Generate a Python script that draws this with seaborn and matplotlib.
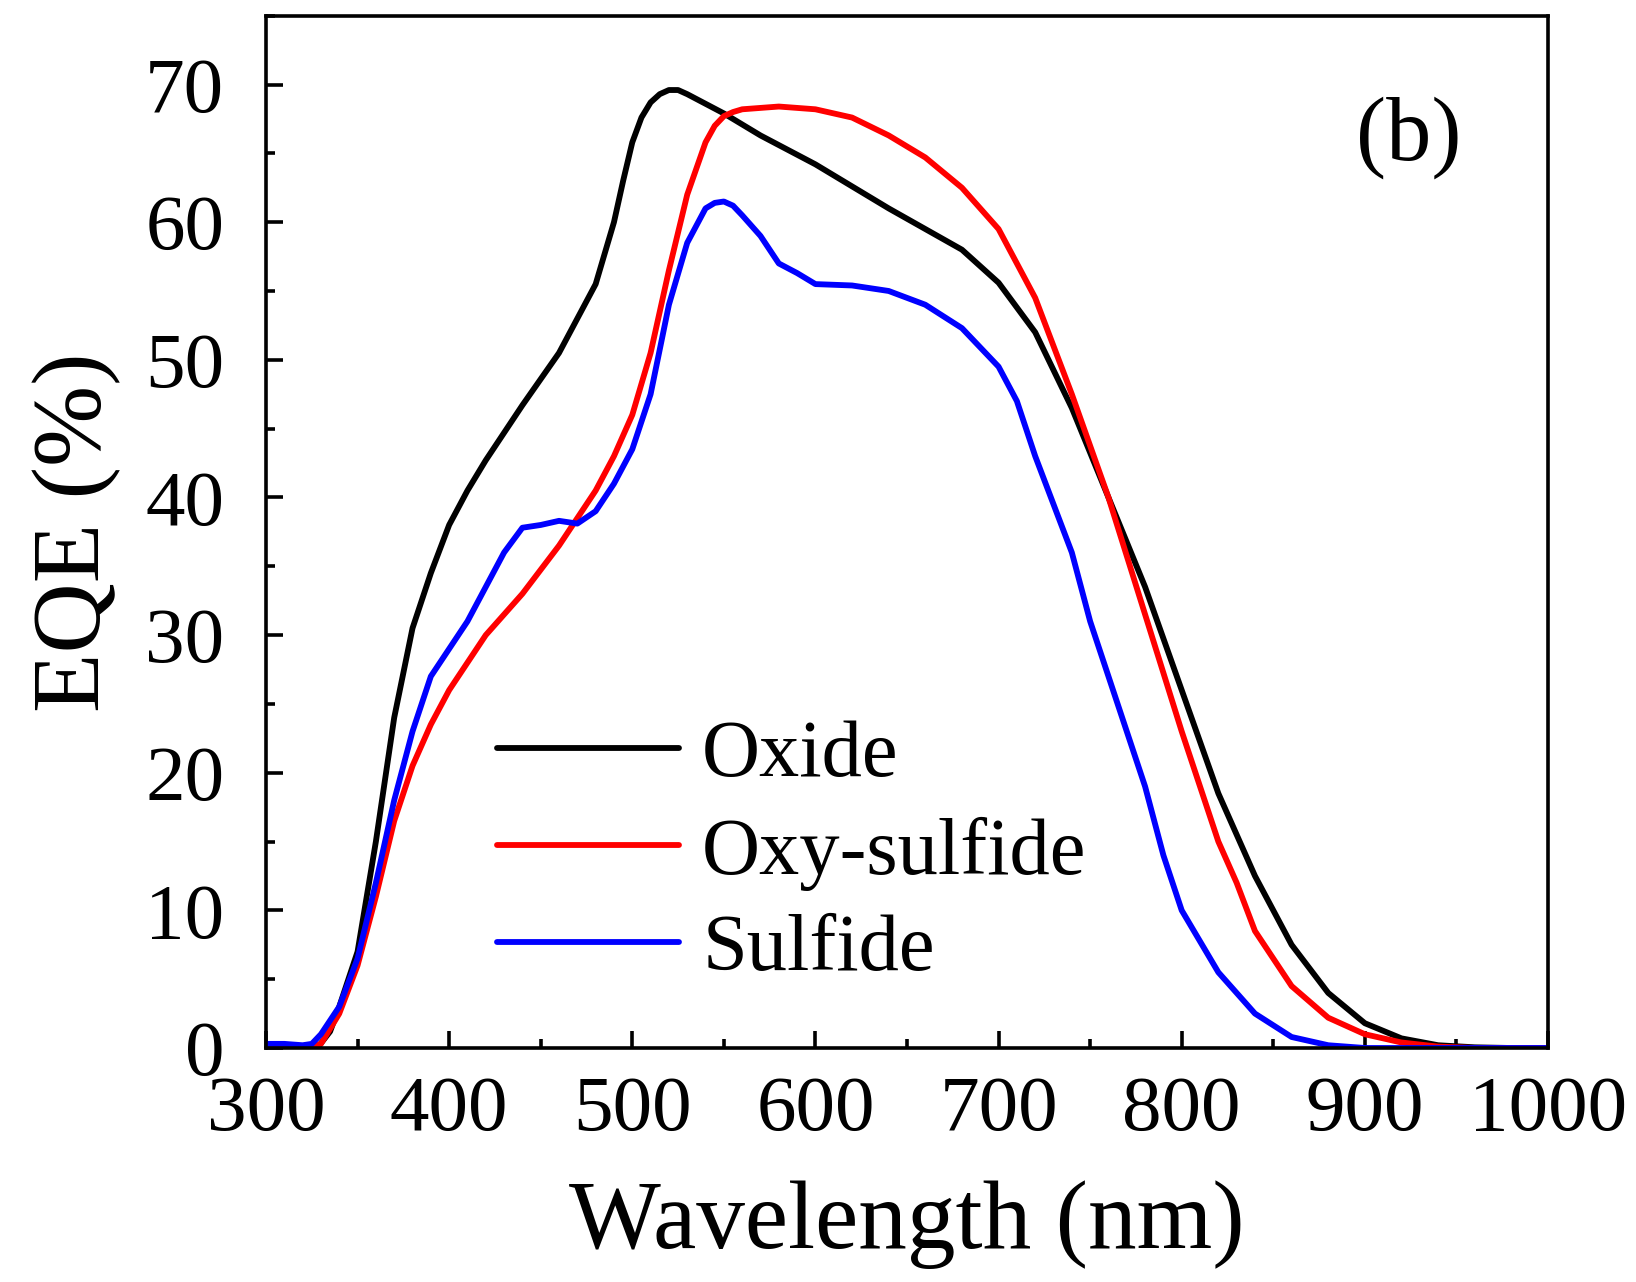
import numpy as np
import pandas as pd
import seaborn as sns
import matplotlib
matplotlib.use("Agg")
import matplotlib.pyplot as plt
from matplotlib.ticker import MultipleLocator

# ---- data ----
oxide_wl = [300, 310, 320, 328, 335, 340, 350, 360, 370, 380, 390, 400, 410, 420, 440, 460,
            480, 490, 495, 500, 505, 510, 515, 520, 525, 530, 540, 550, 560, 570, 580, 600,
            620, 640, 660, 680, 700, 720, 740, 760, 780, 800, 820, 840, 860, 880, 900, 920,
            940, 960, 980, 1000]
oxide_eqe = [0.0, 0.0, 0.0, 0.0, 1.2, 3.0, 7.0, 15.0, 24.0, 30.5, 34.5, 38.0, 40.5, 42.7, 46.7, 50.5,
             55.5, 60.0, 63.0, 65.8, 67.6, 68.7, 69.3, 69.6, 69.6, 69.3, 68.6, 67.9, 67.1, 66.3, 65.6, 64.2,
             62.6, 61.0, 59.5, 58.0, 55.6, 52.0, 46.5, 40.0, 33.5, 26.0, 18.5, 12.5, 7.5, 4.0, 1.8, 0.7,
             0.2, 0.05, 0.0, 0.0]

oxys_wl = [300, 310, 320, 330, 340, 350, 360, 370, 380, 390, 400, 420, 440, 460, 480, 490,
           500, 510, 520, 530, 540, 545, 550, 555, 560, 580, 600, 620, 640, 660, 680, 700,
           720, 740, 760, 780, 800, 820, 830, 840, 860, 880, 900, 920, 940, 960, 980, 1000]
oxys_eqe = [0.0, 0.0, 0.0, 0.3, 2.5, 6.0, 11.0, 16.5, 20.5, 23.5, 26.0, 30.0, 33.0, 36.5, 40.5, 43.0,
            46.0, 50.5, 56.5, 62.0, 65.8, 67.0, 67.7, 68.0, 68.2, 68.4, 68.2, 67.6, 66.3, 64.7, 62.5, 59.5,
            54.5, 47.5, 40.0, 31.5, 23.0, 15.0, 12.0, 8.5, 4.5, 2.2, 1.0, 0.4, 0.1, 0.0, 0.0, 0.0]

sulf_wl = [300, 310, 320, 325, 330, 340, 350, 360, 370, 380, 390, 400, 410, 420, 430, 440,
           450, 460, 470, 480, 490, 500, 510, 520, 530, 540, 545, 550, 555, 560, 570, 580,
           590, 600, 620, 640, 660, 680, 700, 710, 720, 740, 750, 760, 770, 780, 790, 800,
           820, 840, 860, 880, 900, 950, 1000]
sulf_eqe = [0.3, 0.3, 0.2, 0.3, 1.0, 3.0, 6.5, 12.0, 18.0, 23.0, 27.0, 29.0, 31.0, 33.5, 36.0, 37.8,
            38.0, 38.3, 38.1, 39.0, 41.0, 43.5, 47.5, 54.0, 58.5, 61.0, 61.4, 61.5, 61.2, 60.5, 59.0, 57.0,
            56.3, 55.5, 55.4, 55.0, 54.0, 52.3, 49.5, 47.0, 43.0, 36.0, 31.0, 27.0, 23.0, 19.0, 14.0, 10.0,
            5.5, 2.5, 0.8, 0.2, 0.0, 0.0, 0.0]

series_names = ["Oxide", "Oxy-sulfide", "Sulfide"]
series_colors = ["#000000", "#ff0000", "#0000ff"]

df = pd.concat([
    pd.DataFrame({"wl": oxide_wl, "eqe": oxide_eqe, "sample": "Oxide"}),
    pd.DataFrame({"wl": oxys_wl, "eqe": oxys_eqe, "sample": "Oxy-sulfide"}),
    pd.DataFrame({"wl": sulf_wl, "eqe": sulf_eqe, "sample": "Sulfide"}),
], ignore_index=True)

sns.set_style("ticks")
plt.rcParams["font.family"] = ["Liberation Serif", "DejaVu Serif"]
plt.rcParams["text.color"] = "black"
plt.rcParams["axes.labelcolor"] = "black"
plt.rcParams["xtick.color"] = "black"
plt.rcParams["ytick.color"] = "black"

fig = plt.figure(figsize=(16.36, 12.82), dpi=100)
ax = fig.add_axes([266 / 1636, 1 - 1048 / 1282, (1548 - 266) / 1636, (1048 - 15.7) / 1282])

sns.lineplot(data=df, x="wl", y="eqe", hue="sample", hue_order=series_names,
             palette=dict(zip(series_names, series_colors)), estimator=None,
             linewidth=4.2, ax=ax)

ax.set_xlim(300, 1000)
ax.set_ylim(0, 75)
ax.xaxis.set_major_locator(MultipleLocator(100))
ax.xaxis.set_minor_locator(MultipleLocator(50))
ax.set_yticks([0, 10, 20, 30, 40, 50, 60, 70])
ax.yaxis.set_minor_locator(MultipleLocator(5))

for s in ax.spines.values():
    s.set_linewidth(2.6)
    s.set_color("black")

ax.tick_params(which="both", direction="in", top=False, right=False, width=2.6,
               colors="black", labelcolor="black")
ax.tick_params(which="major", length=12, labelsize=57)
ax.tick_params(which="minor", length=6.5)
ax.tick_params(axis="y", which="major", pad=30)
ax.tick_params(axis="x", which="major", pad=20)

ax.set_xlabel("Wavelength (nm)", fontsize=70, labelpad=24, color="black")
ax.set_ylabel("EQE (%)", fontsize=70, labelpad=17, color="black")

ax.text(0.891, 0.882, "(b)", transform=ax.transAxes, fontsize=65,
        ha="center", va="center", color="black")

leg = ax.legend(loc="upper left", bbox_to_anchor=(0.180, 0.318), frameon=False,
                fontsize=58, handlelength=2.26, handletextpad=0.29,
                labelspacing=0.29, borderpad=0, borderaxespad=0)
for line in leg.get_lines():
    line.set_linewidth(4.2)
for t in leg.get_texts():
    t.set_color("black")

fig.savefig("out.png", dpi=100, facecolor="white")
